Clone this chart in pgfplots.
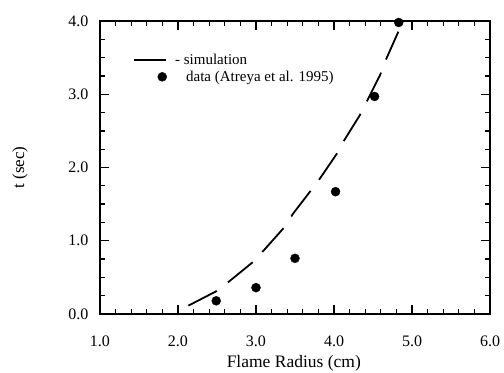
\documentclass[border=0pt]{standalone}
\usepackage{fontspec}
\setmainfont{Liberation Serif}
\usepackage{pgfplots}
\pgfplotsset{compat=1.18}
\begin{document}
\begin{tikzpicture}
\begin{axis}[
  scale only axis,
  width=390pt, height=293pt,
  xmin=1, xmax=6, ymin=0, ymax=4,
  xtick={1,2,3,4,5,6}, ytick={0,1,2,3,4},
  minor x tick num=4, minor y tick num=3,
  major tick length=9pt, minor tick length=5pt,
  tick style={line width=1.3pt, black},
  axis line style={line width=1.6pt},
  /pgf/number format/assume math mode=true,
  xticklabel style={/pgf/number format/.cd, fixed, fixed zerofill, precision=1},
  yticklabel style={/pgf/number format/.cd, fixed, fixed zerofill, precision=1},
  tick label style={font=\fontsize{16}{18}\selectfont},
  xticklabel shift=18pt,
  yticklabel shift=8pt,
  xlabel={Flame Radius (cm)},
  ylabel={t (sec)},
  xlabel style={font=\fontsize{17.5}{20}\selectfont, at={(rel axis cs:0.497,-0.168)}, anchor=center},
  ylabel style={font=\fontsize{17}{20}\selectfont, at={(rel axis cs:-0.205,0.5)}, anchor=center},
  legend style={draw=none, fill=none, at={(rel axis cs:0.085,0.895)}, anchor=north west,
    font=\fontsize{15}{17}\selectfont, row sep=1pt, inner sep=0pt},
  legend cell align=left,
  clip=false,
]
\addplot[black, line width=1.8pt, dash pattern=on 32pt off 14pt,
  legend image code/.code={\draw[black, line width=1.8pt, solid] (0pt,0pt) -- (32pt,0pt);}]
 coordinates {
 (2.133,0.114) (2.496,0.314) (2.636,0.428) (2.966,0.714) (3.115,0.887)
 (3.359,1.179) (3.479,1.375) (3.692,1.670) (3.821,1.852) (4.034,2.184)
 (4.120,2.353) (4.333,2.717) (4.590,3.260) (4.654,3.444) (4.825,3.854)
 };
\addlegendentry{\hspace{6pt}- simulation}
\addplot[only marks, mark=*, mark size=4.5pt, black,
  legend image code/.code={\fill[black] (28pt,0pt) circle (4.5pt); \path[draw=none] (0pt,0pt) -- (32pt,0pt);}]
 coordinates {
 (2.49,0.18) (3.00,0.36) (3.50,0.76) (4.02,1.67) (4.52,2.97) (4.83,3.98)
 };
\addlegendentry{\hspace{17pt}data (Atreya et al. 1995)}
\coordinate (bl) at (rel axis cs:-0.2564,-0.201);
\coordinate (tr) at (rel axis cs:1.0359,1.0717);
\end{axis}
\pgfresetboundingbox
\path (bl) rectangle (tr);
\end{tikzpicture}
\end{document}
